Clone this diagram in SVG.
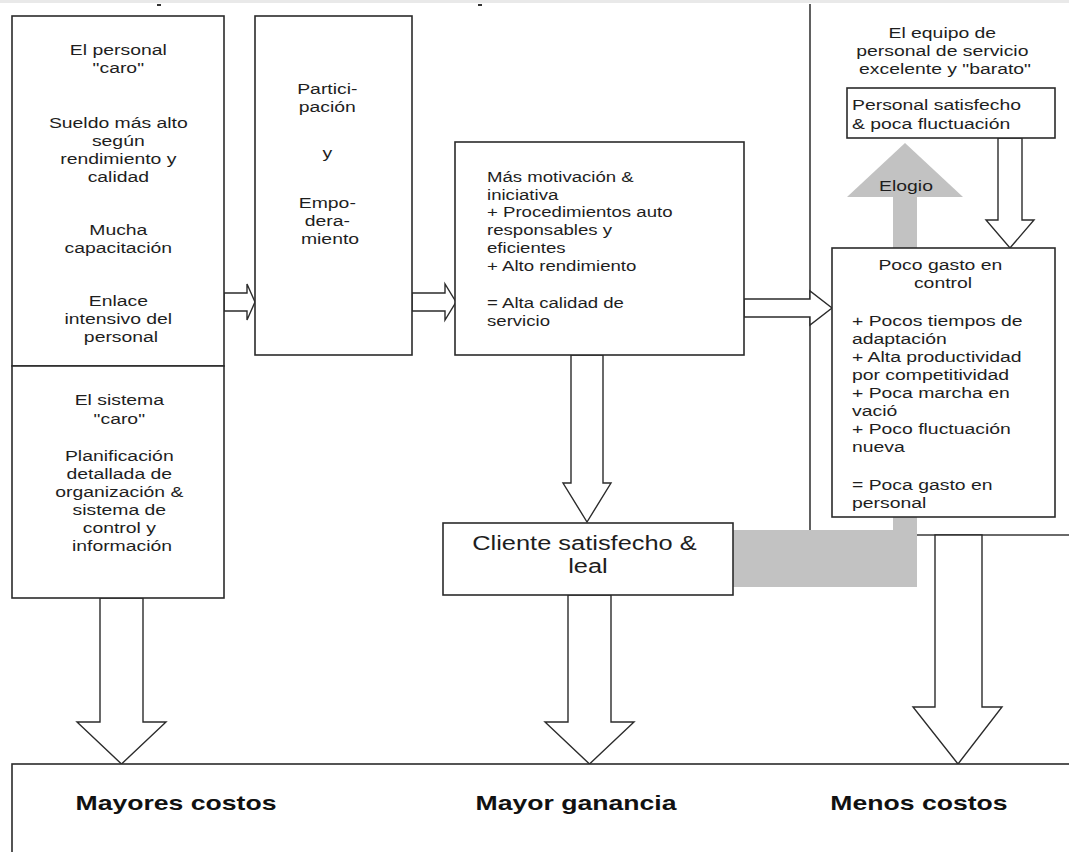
<svg xmlns="http://www.w3.org/2000/svg" width="1069" height="852" viewBox="0 0 1069 852">
<style>
.box{fill:#fff;stroke:#2b2b2b;stroke-width:1.6}
.arr{fill:#fff;stroke:#2b2b2b;stroke-width:1.4;stroke-linejoin:miter}
.ln{fill:none;stroke:#3a3a3a;stroke-width:1.6}
.grey{fill:#c2c2c2;stroke:none}
.t{font-family:"Liberation Sans",Arial,sans-serif;font-size:15.5px;fill:#1e1e1e}
.c{text-anchor:middle}
.big{font-size:20px}
.b{font-weight:bold;font-size:20px;fill:#111}
</style>
<rect x="0" y="0" width="1069" height="852" fill="#fff"/>
<rect x="0" y="0" width="1069" height="3" fill="#e9e9e9"/>
<rect x="157" y="4" width="4" height="2" fill="#333"/>
<rect x="478" y="4" width="4" height="2" fill="#333"/>

<g id="region">
<polyline class="ln" points="810,4 810,535 1069,535"/>
</g>

<g id="connectors">
<g id="praise">
<rect class="grey" x="733" y="530" width="184" height="57"/>
<rect class="grey" x="893" y="196" width="24" height="391"/>
<polygon class="grey" points="847,197 963,197 905,143"/>
<text class="t c" transform="translate(906,0) scale(1.25,1)"><tspan x="0" y="191">Elogio</tspan></text>
</g>
<polygon class="arr" points="224,293 247,293 247,284 255,302 247,320 247,311 224,311"/>
<polygon class="arr" points="412,293 445,293 445,284 456,302 445,320 445,311 412,311"/>
<polygon class="arr" points="744,299 810,299 810,291 832,308 810,325 810,317 744,317"/>
<polygon class="arr" points="571,355 603,355 603,483 611,483 587,522 563,483 571,483"/>
<polygon class="arr" points="998,138 1022,138 1022,220 1034,220 1010,248 986,220 998,220"/>
<polygon class="arr" points="100,598 143,598 143,722 166,722 121.5,764 77,722 100,722"/>
<polygon class="arr" points="568,595 611,595 611,722 634,722 589.5,764 545,722 568,722"/>
<polygon class="arr" points="935,535 982,535 982,707 1002,707 958,764 913,707 935,707"/>
</g>

<g id="personal-caro">
<rect class="box" x="12" y="16" width="212" height="350"/>
<text class="t c" transform="translate(121,0) scale(1.25,1)">
<tspan x="0" y="55">El personal</tspan>
<tspan x="0" y="73">"caro"</tspan>
<tspan x="0" y="128">Sueldo más alto</tspan>
<tspan x="0" y="146">según</tspan>
<tspan x="0" y="164">rendimiento y</tspan>
<tspan x="0" y="182">calidad</tspan>
<tspan x="0" y="235">Mucha</tspan>
<tspan x="0" y="253">capacitación</tspan>
<tspan x="0" y="306">Enlace</tspan>
<tspan x="0" y="324">intensivo del</tspan>
<tspan x="0" y="342">personal</tspan>
</text>
</g>

<g id="sistema-caro">
<rect class="box" x="12" y="366" width="212" height="232"/>
<text class="t c" transform="translate(122,0) scale(1.25,1)">
<tspan x="0" y="405">El sistema</tspan>
<tspan x="0" y="424">"caro"</tspan>
<tspan x="0" y="461">Planificación</tspan>
<tspan x="0" y="479">detallada de</tspan>
<tspan x="0" y="497">organización &amp;</tspan>
<tspan x="0" y="515">sistema de</tspan>
<tspan x="0" y="533">control y</tspan>
<tspan x="0" y="551">información</tspan>
</text>
</g>

<g id="participacion">
<rect class="box" x="255" y="16" width="157" height="339"/>
<text class="t c" transform="translate(330,0) scale(1.25,1)">
<tspan x="0" y="94">Partici-</tspan>
<tspan x="0" y="112">pación</tspan>
<tspan x="0" y="158">y</tspan>
<tspan x="0" y="208">Empo-</tspan>
<tspan x="0" y="226">dera-</tspan>
<tspan x="0" y="244">miento</tspan>
</text>
</g>

<g id="motivacion">
<rect class="box" x="455" y="142" width="289" height="213"/>
<text class="t" transform="translate(487,0) scale(1.2,1)">
<tspan x="0" y="182">Más motivación &amp;</tspan>
<tspan x="0" y="200">iniciativa</tspan>
<tspan x="0" y="217">+ Procedimientos auto</tspan>
<tspan x="0" y="235">responsables y</tspan>
<tspan x="0" y="253">eficientes</tspan>
<tspan x="0" y="271">+ Alto rendimiento</tspan>
<tspan x="0" y="308">= Alta calidad de</tspan>
<tspan x="0" y="326">servicio</tspan>
</text>
</g>

<g id="cliente">
<rect class="box" x="443" y="523" width="290" height="72"/>
<text class="t c big" transform="translate(588,0) scale(1.27,1)">
<tspan x="0" y="550">Cliente satisfecho &amp;</tspan>
<tspan x="0" y="573">leal</tspan>
</text>
</g>

<g id="equipo-titulo">
<text class="t c" transform="translate(945,0) scale(1.25,1)">
<tspan x="0" y="38">El equipo de</tspan>
<tspan x="0" y="56">personal de servicio</tspan>
<tspan x="0" y="74">excelente y "barato"</tspan>
</text>
</g>

<g id="personal-satisfecho">
<rect class="box" x="847" y="88" width="208" height="50"/>
<text class="t" transform="translate(852,0) scale(1.25,1)">
<tspan x="0" y="110">Personal satisfecho</tspan>
<tspan x="0" y="129">&amp; poca fluctuación</tspan>
</text>
</g>

<g id="poco-gasto">
<rect class="box" x="832" y="248" width="223" height="269"/>
<text class="t c" transform="translate(943,0) scale(1.25,1)">
<tspan x="0" y="270">Poco gasto en</tspan>
<tspan x="0" y="288">control</tspan>
</text>
<text class="t" transform="translate(852,0) scale(1.25,1)">
<tspan x="0" y="326">+ Pocos tiempos de</tspan>
<tspan x="0" y="344">adaptación</tspan>
<tspan x="0" y="362">+ Alta productividad</tspan>
<tspan x="0" y="380">por competitividad</tspan>
<tspan x="0" y="398">+ Poca marcha en</tspan>
<tspan x="0" y="416">vació</tspan>
<tspan x="0" y="434">+ Poco fluctuación</tspan>
<tspan x="0" y="452">nueva</tspan>
<tspan x="0" y="490">= Poca gasto en</tspan>
<tspan x="0" y="508">personal</tspan>
</text>
</g>

<g id="resultados">
<rect class="box" x="12" y="764" width="1080" height="120"/>
<text class="t b c" transform="translate(176,0) scale(1.33,1)"><tspan x="0" y="810">Mayores costos</tspan></text>
<text class="t b c" transform="translate(576,0) scale(1.33,1)"><tspan x="0" y="810">Mayor ganancia</tspan></text>
<text class="t b c" transform="translate(919,0) scale(1.33,1)"><tspan x="0" y="810">Menos costos</tspan></text>
</g>
</svg>
